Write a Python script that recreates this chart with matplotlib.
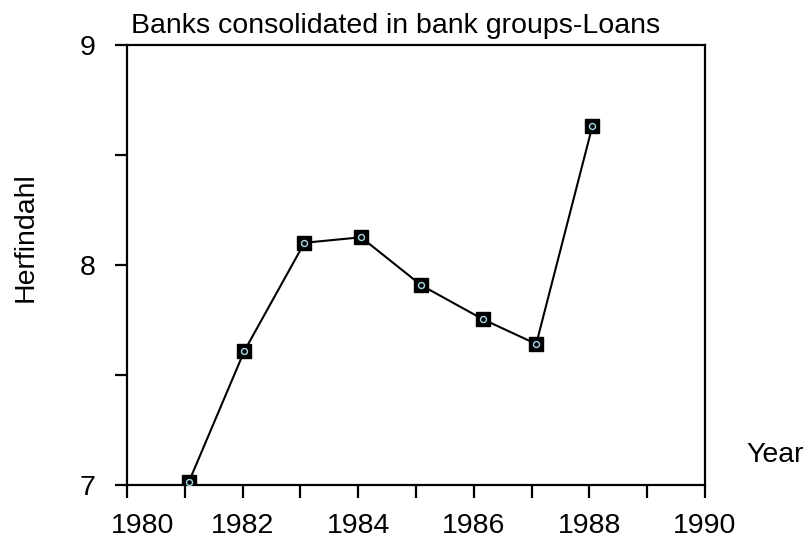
import numpy as np
import matplotlib.pyplot as plt
from matplotlib.ticker import MultipleLocator

plt.rcParams['font.family'] = ['Liberation Sans', 'DejaVu Sans']

# Herfindahl index of loans, banks consolidated in bank groups
years = [1981.07, 1982.03, 1983.07, 1984.05, 1985.09, 1986.16, 1987.08, 1988.05]
herf = [7.014, 7.609, 8.101, 8.126, 7.908, 7.753, 7.641, 8.630]
xticks = [1980, 1982, 1984, 1986, 1988, 1990]
yticks = [7, 8, 9]

W, H = 808, 541
fig = plt.figure(figsize=(W / 100, H / 100), dpi=100)
ax = fig.add_axes([127 / W, 1 - 485 / H, 578 / W, 440 / H])

ax.plot(years, herf, color='black', lw=1.5, zorder=2)
ax.plot(years, herf, 's', color='black', ms=9.5, zorder=3)
ax.plot(years, herf, 'o', mfc='none', mec='#a8d8e8', mew=1.0, ms=4.3, ls='none', zorder=4)

ax.set_xlim(1980, 1990)
ax.set_ylim(7, 9)
# first year label is drawn separately, shifted right of the y-axis "7"
ax.set_xticks(xticks, [''] + [str(y) for y in xticks[1:]])
ax.xaxis.set_minor_locator(MultipleLocator(1))
ax.set_yticks(yticks, [str(y) for y in yticks])
ax.yaxis.set_minor_locator(MultipleLocator(0.5))
ax.tick_params(which='both', direction='out', length=9, width=1.6, color='black')
ax.tick_params(axis='x', labelsize=20.5, pad=11.5)
ax.tick_params(axis='y', labelsize=20.5, pad=13.5)
for s in ax.spines.values():
    s.set_linewidth(1.6)

ax.annotate(str(xticks[0]), xy=(xticks[0], 0), xycoords=('data', 'axes fraction'),
            xytext=(11.5, -20.5), textcoords='offset points',
            ha='center', va='top', fontsize=20.5)

fig.text(25.5 / W, 1 - 237 / H, 'Herfindahl', rotation=90, fontsize=20.5,
         ha='center', va='center')
fig.text(775 / W, 1 - 455 / H, 'Year', fontsize=20.5, ha='center', va='center')
fig.text(131 / W, 1 - 33 / H, 'Banks consolidated in bank groups-Loans', fontsize=20.5,
         ha='left', va='baseline')

fig.savefig('out.png', dpi=100)
